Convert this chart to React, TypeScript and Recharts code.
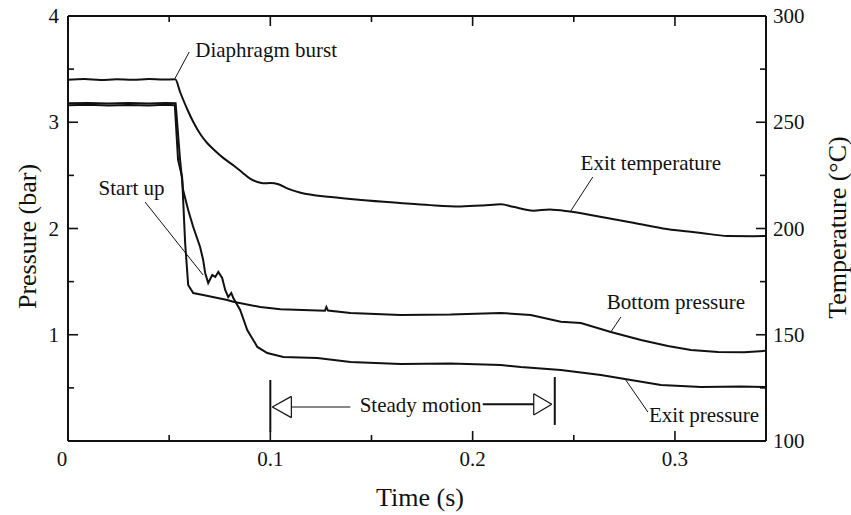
import React from 'react';
import { LineChart, Line, XAxis, YAxis, ReferenceLine, ReferenceDot } from 'recharts';

const FONT = '"Liberation Serif", "Times New Roman", Times, serif';
const INK = '#111';

// ---- axis ticks ----
const timeTicks = [0, 0.05, 0.1, 0.15, 0.2, 0.25, 0.3];
const pressureTicks = [0, 0.5, 1, 1.5, 2, 2.5, 3, 3.5, 4];
const temperatureTicks = [100, 125, 150, 175, 200, 225, 250, 275, 300];
const timeLabels = [0, 0.1, 0.2, 0.3];
const pressureLabels = [1, 2, 3, 4];
const temperatureLabels = [100, 150, 200, 250, 300];

// ---- exit temperature (°C) ----
const tempTime = [0, 0.008, 0.016, 0.024, 0.032, 0.04, 0.047, 0.053, 0.0555, 0.059, 0.062, 0.0657, 0.069, 0.072, 0.077, 0.082, 0.086, 0.09, 0.094, 0.0965, 0.1, 0.104, 0.108, 0.115, 0.13, 0.145, 0.164, 0.179, 0.194, 0.205, 0.214, 0.22, 0.23, 0.238, 0.248, 0.263, 0.28, 0.296, 0.313, 0.326, 0.339, 0.345];
const tempValue = [270.0, 270.3, 269.9, 270.2, 270.0, 270.3, 270.1, 270.2, 264, 256, 250, 244, 240, 237.2, 233, 229.5, 226.5, 223.5, 221.8, 221.3, 221.4, 220.8, 219, 216.8, 214.8, 213.4, 212.0, 211, 210.4, 210.8, 211.4, 210.2, 208.4, 209.0, 208.0, 205.5, 202.6, 199.8, 197.9, 196.5, 196.4, 196.5];

// ---- bottom pressure (bar) ----
const bottomTime = [0, 0.01, 0.02, 0.03, 0.04, 0.048, 0.0528, 0.0544, 0.0564, 0.0579, 0.0594, 0.0619, 0.0668, 0.0787, 0.0817, 0.095, 0.105, 0.116, 0.127, 0.1277, 0.1285, 0.1396, 0.1644, 0.189, 0.2139, 0.2287, 0.2436, 0.2535, 0.2683, 0.2832, 0.2965, 0.3079, 0.3213, 0.3342, 0.3455];
const bottomValue = [3.16, 3.165, 3.158, 3.163, 3.157, 3.164, 3.16, 2.645, 2.485, 1.864, 1.468, 1.393, 1.374, 1.327, 1.31, 1.261, 1.24, 1.232, 1.226, 1.26, 1.228, 1.205, 1.186, 1.19, 1.205, 1.186, 1.123, 1.11, 1.026, 0.95, 0.894, 0.856, 0.838, 0.835, 0.85];

// ---- exit pressure (bar) ----
const exitTime = [0, 0.01, 0.02, 0.03, 0.04, 0.048, 0.0532, 0.0554, 0.0569, 0.0594, 0.0619, 0.0653, 0.0668, 0.0678, 0.0693, 0.0713, 0.0728, 0.0743, 0.0762, 0.0777, 0.0792, 0.0807, 0.0817, 0.0851, 0.0886, 0.0936, 0.0985, 0.1064, 0.1233, 0.1396, 0.1644, 0.1891, 0.2139, 0.2238, 0.2436, 0.2634, 0.2782, 0.2931, 0.3129, 0.3327, 0.3455];
const exitValue = [3.178, 3.182, 3.176, 3.18, 3.177, 3.181, 3.178, 2.645, 2.362, 2.174, 2.014, 1.826, 1.704, 1.581, 1.487, 1.562, 1.544, 1.591, 1.534, 1.421, 1.355, 1.393, 1.346, 1.233, 1.045, 0.885, 0.828, 0.791, 0.781, 0.744, 0.725, 0.729, 0.715, 0.696, 0.668, 0.621, 0.574, 0.527, 0.508, 0.513, 0.508];

const tempData = tempTime.map((t, i) => ({ t, v: tempValue[i] }));
const bottomData = bottomTime.map((t, i) => ({ t, v: bottomValue[i] }));
const exitData = exitTime.map((t, i) => ({ t, v: exitValue[i] }));

// ---- annotations (time s, pressure bar) ----
const annotations = [
  { text: 'Diaphragm burst', x: 0.0629, y: 3.68, anchor: 'start' },
  { text: 'Start up', x: 0.0314, y: 2.381, anchor: 'middle' },
  { text: 'Exit temperature', x: 0.2881, y: 2.616, anchor: 'middle' },
  { text: 'Bottom pressure', x: 0.3005, y: 1.308, anchor: 'middle' },
  { text: 'Exit pressure', x: 0.3144, y: 0.245, anchor: 'middle' },
  { text: 'Steady motion', x: 0.1743, y: 0.339, anchor: 'middle' },
];
const pointers = [
  [[0.053, 3.416], [0.0599, 3.661]],
  [[0.0381, 2.249], [0.0668, 1.562]],
  [[0.2485, 2.165], [0.2594, 2.485]],
  [[0.2683, 1.026], [0.2733, 1.167]],
  [[0.2757, 0.574], [0.2866, 0.273]],
];
const steadyStart = 0.1;
const steadyEnd = 0.2406;
const steadyBars = [
  [[steadyStart, 0.574], [steadyStart, 0.085]],
  [[steadyEnd, 0.602], [steadyEnd, 0.151]],
];
// arrow pieces: [from, to, width]
const arrowPieces = [
  [[0.1104, 0.32], [0.1396, 0.32], 1.2],
  [[0.101, 0.32], [0.1104, 0.42], 1.2],
  [[0.101, 0.32], [0.1104, 0.22], 1.2],
  [[0.1104, 0.42], [0.1104, 0.22], 1.2],
  [[0.205, 0.345], [0.2302, 0.345], 2],
  [[0.2391, 0.345], [0.2302, 0.445], 1.2],
  [[0.2391, 0.345], [0.2302, 0.245], 1.2],
  [[0.2302, 0.445], [0.2302, 0.245], 1.2],
];

const MAJ = 10;
const MIN = 6;
const near = (v: number, list: number[]) => list.some((l) => Math.abs(l - v) < 1e-9);

const tickText = { fontFamily: FONT, fontSize: 21, fill: INK } as const;

const BottomTick = (props: any) => {
  const { x, y, payload } = props;
  const v = payload.value;
  const major = near(v, timeLabels);
  return (
    <g>
      <line x1={x} x2={x} y1={y} y2={y - (major ? MAJ : MIN)} stroke={INK} strokeWidth={1.6} />
      {major && (
        <text x={x + (v === 0 ? -6 : 0)} y={y + 18} textAnchor="middle" dominantBaseline="central" {...tickText}>
          {v === 0 ? '0' : v.toFixed(1)}
        </text>
      )}
    </g>
  );
};

const TopTick = (props: any) => {
  const { x, y, payload } = props;
  const major = near(payload.value, timeLabels);
  return <line x1={x} x2={x} y1={y} y2={y + (major ? MAJ : MIN)} stroke={INK} strokeWidth={1.6} />;
};

const LeftTick = (props: any) => {
  const { x, y, payload } = props;
  const v = payload.value;
  const major = Number.isInteger(v);
  return (
    <g>
      <line x1={x} x2={x + (major ? MAJ : MIN)} y1={y} y2={y} stroke={INK} strokeWidth={1.6} />
      {near(v, pressureLabels) && (
        <text x={x - 9} y={y} textAnchor="end" dominantBaseline="central" {...tickText}>
          {String(v)}
        </text>
      )}
    </g>
  );
};

const RightTick = (props: any) => {
  const { x, y, payload } = props;
  const v = payload.value;
  const major = near(v, temperatureLabels);
  return (
    <g>
      <line x1={x} x2={x - (major ? MAJ : MIN)} y1={y} y2={y} stroke={INK} strokeWidth={1.6} />
      {major && (
        <text x={x + 7} y={y} textAnchor="start" dominantBaseline="central" {...tickText}>
          {String(v)}
        </text>
      )}
    </g>
  );
};

const titleStyle = { fontFamily: FONT, fontSize: 26, fill: INK } as const;

const LeftTitle = (props: any) => {
  const vb = props.viewBox;
  const cx = vb.x + 19;
  const cy = vb.y + vb.height / 2 + 8;
  return (
    <text x={cx} y={cy} transform={`rotate(-90, ${cx}, ${cy})`} textAnchor="middle" dominantBaseline="central" {...titleStyle}>
      Pressure (bar)
    </text>
  );
};

const RightTitle = (props: any) => {
  const vb = props.viewBox;
  const cx = vb.x + 71;
  const cy = vb.y + vb.height / 2 - 1;
  return (
    <text x={cx} y={cy} transform={`rotate(-90, ${cx}, ${cy})`} textAnchor="middle" dominantBaseline="central" {...titleStyle}>
      Temperature (°C)
    </text>
  );
};

const BottomTitle = (props: any) => {
  const vb = props.viewBox;
  const cx = vb.x + vb.width / 2 + 3;
  const cy = vb.y + 56;
  return (
    <text x={cx} y={cy} textAnchor="middle" dominantBaseline="central" {...titleStyle}>
      Time (s)
    </text>
  );
};

export default function App() {
  return (
    <div style={{ position: 'absolute', left: 0, top: 0, width: 851, height: 515, background: '#fff' }}>
      <LineChart width={851} height={515} margin={{ top: 0, right: 8, bottom: 8, left: 8 }}>
        <XAxis
          xAxisId="b"
          type="number"
          dataKey="t"
          domain={[0, 0.345]}
          ticks={timeTicks}
          interval={0}
          allowDataOverflow
          height={66}
          tickSize={0}
          tickMargin={0}
          tickLine={false}
          axisLine={{ stroke: INK, strokeWidth: 2 }}
          tick={<BottomTick />}
          label={<BottomTitle />}
        />
        <XAxis
          xAxisId="t"
          orientation="top"
          type="number"
          dataKey="t"
          domain={[0, 0.345]}
          ticks={timeTicks}
          interval={0}
          allowDataOverflow
          height={16}
          tickSize={0}
          tickMargin={0}
          tickLine={false}
          axisLine={{ stroke: INK, strokeWidth: 2 }}
          tick={<TopTick />}
        />
        <YAxis
          yAxisId="p"
          type="number"
          domain={[0, 4]}
          ticks={pressureTicks}
          interval={0}
          allowDataOverflow
          width={60}
          tickSize={0}
          tickMargin={0}
          tickLine={false}
          axisLine={{ stroke: INK, strokeWidth: 2 }}
          tick={<LeftTick />}
          label={<LeftTitle />}
        />
        <YAxis
          yAxisId="T"
          orientation="right"
          type="number"
          domain={[100, 300]}
          ticks={temperatureTicks}
          interval={0}
          allowDataOverflow
          width={77}
          tickSize={0}
          tickMargin={0}
          tickLine={false}
          axisLine={{ stroke: INK, strokeWidth: 2 }}
          tick={<RightTick />}
          label={<RightTitle />}
        />

        <Line xAxisId="b" yAxisId="T" data={tempData} dataKey="v" type="monotone" stroke={INK} strokeWidth={2} dot={false} isAnimationActive={false} />
        <Line xAxisId="b" yAxisId="p" data={bottomData} dataKey="v" type="linear" stroke={INK} strokeWidth={2} dot={false} isAnimationActive={false} />
        <Line xAxisId="b" yAxisId="p" data={exitData} dataKey="v" type="linear" stroke={INK} strokeWidth={2} dot={false} isAnimationActive={false} />

        {pointers.map((seg, i) => (
          <ReferenceLine
            key={`ptr${i}`}
            xAxisId="b"
            yAxisId="p"
            segment={[{ x: seg[0][0], y: seg[0][1] }, { x: seg[1][0], y: seg[1][1] }]}
            stroke={INK}
            strokeWidth={1}
            ifOverflow="visible"
          />
        ))}
        {steadyBars.map((seg, i) => (
          <ReferenceLine
            key={`bar${i}`}
            xAxisId="b"
            yAxisId="p"
            segment={[{ x: seg[0][0], y: seg[0][1] }, { x: seg[1][0], y: seg[1][1] }]}
            stroke={INK}
            strokeWidth={2}
            ifOverflow="visible"
          />
        ))}
        {arrowPieces.map((seg: any, i) => (
          <ReferenceLine
            key={`arr${i}`}
            xAxisId="b"
            yAxisId="p"
            segment={[{ x: seg[0][0], y: seg[0][1] }, { x: seg[1][0], y: seg[1][1] }]}
            stroke={INK}
            strokeWidth={seg[2]}
            ifOverflow="visible"
          />
        ))}
        {annotations.map((a, i) => (
          <ReferenceDot
            key={`ann${i}`}
            xAxisId="b"
            yAxisId="p"
            x={a.x}
            y={a.y}
            r={0}
            ifOverflow="visible"
            shape={(p: any) => (
              <text x={p.cx} y={p.cy} textAnchor={a.anchor as any} dominantBaseline="central" fontFamily={FONT} fontSize={21} fill={INK}>
                {a.text}
              </text>
            )}
          />
        ))}
      </LineChart>
    </div>
  );
}
